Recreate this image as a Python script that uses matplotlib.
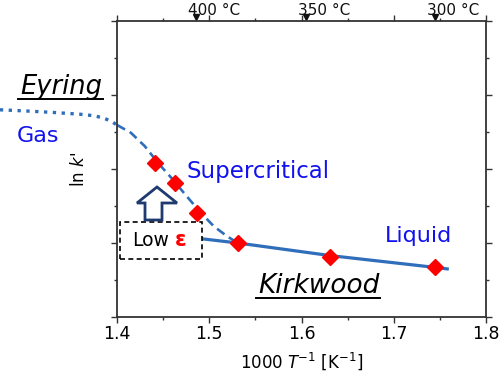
import matplotlib
matplotlib.use("Agg")
import matplotlib.pyplot as plt
import numpy as np
from matplotlib.lines import Line2D
from matplotlib.patches import Polygon, Rectangle
from matplotlib.transforms import offset_copy
from matplotlib.ticker import MultipleLocator

# ---------------- data ----------------
exp_x = [1.441, 1.463, 1.487, 1.531, 1.631, 1.745]
exp_y = [4.16, 3.62, 2.81, 2.00, 1.62, 1.35]

gas_x = [1.273, 1.30, 1.33, 1.36, 1.375, 1.385, 1.393, 1.40]
gas_y = [5.60, 5.57, 5.53, 5.48, 5.44, 5.38, 5.30, 5.19]

eyring_x = [1.400, 1.415, 1.430, 1.445, 1.460, 1.475, 1.490, 1.505, 1.520, 1.531]
eyring_y = [5.19, 4.98, 4.62, 4.15, 3.73, 3.28, 2.84, 2.45, 2.17, 2.00]

kirk_x = [1.490, 1.531, 1.631, 1.745, 1.758]
kirk_y = [2.12, 2.00, 1.66, 1.34, 1.30]

temps_C = [400, 350, 300]
temp_labels = ["400 °C", "350 °C", "300 °C"]
xticks = [1.4, 1.5, 1.6, 1.7, 1.8]

line_col = "#2f6eba"
blue_txt = "#1212ee"
W, H = 500, 379

fig = plt.figure(figsize=(5, 3.79), dpi=100)
ax = fig.add_axes([117 / W, 1 - 317 / H, (486 - 117) / W, (317 - 21) / H])

def px(x, y):
    return (x / W, 1 - y / H)

ax.set_xlim(1.4, 1.8)
ax.set_ylim(0, 8)
ax.set_xticks(xticks)
ax.set_xticklabels([f"{v:.1f}" for v in xticks])
ax.xaxis.set_minor_locator(MultipleLocator(0.05))
ax.yaxis.set_major_locator(MultipleLocator(2))
ax.yaxis.set_minor_locator(MultipleLocator(1))
ax.tick_params(axis="both", which="both", direction="out", top=True, right=True,
               labeltop=False, labelleft=False, labelright=False, color="#333333")
ax.tick_params(axis="both", which="major", length=4, width=1, labelsize=12.5, pad=2)
ax.tick_params(axis="both", which="minor", length=2.5, width=1)
for s in ax.spines.values():
    s.set_linewidth(1.3)
    s.set_color("#333333")

# lines
ax.plot(gas_x, gas_y, linestyle=":", color=line_col, lw=2.4, clip_on=False)
ax.plot(eyring_x, eyring_y, linestyle=(0, (3.5, 2)), color=line_col, lw=1.9)
ax.plot(kirk_x, kirk_y, linestyle="-", color=line_col, lw=2.3)
ax.plot(exp_x, exp_y, linestyle="none", marker="D", ms=8.2, color="red",
        mec="red", zorder=5)

# labels
ax.set_xlabel("1000 $T$$^{-1}$ [K$^{-1}$]", fontsize=12)
ax.xaxis.set_label_coords(0.5, -0.112)
ax.set_ylabel("ln $k$'", fontsize=12)
ax.yaxis.set_label_coords(-0.079, 0.5)

# top temperature scale
temp_x = [1000.0 / (t + 273.15) for t in temps_C]
tr = ax.get_xaxis_transform()
ax.plot(temp_x, [1.012] * len(temp_x), linestyle="none", marker="v", ms=4.5,
        color="#111111", transform=tr, clip_on=False)
tr_txt = offset_copy(tr, fig=fig, x=-8, y=0, units="dots")
for xv, lab in zip(temp_x, temp_labels):
    ax.text(xv, 1.021, lab, transform=tr_txt, ha="left", va="baseline",
            fontsize=11, color="#111111")

# texts
renderer = fig.canvas.get_renderer()

def underlined(x, y, s, size, ul_y, pad=(2, 1)):
    t = fig.text(*px(x, y), s, fontsize=size, style="italic", ha="left",
                 va="baseline", color="black")
    bb = t.get_window_extent(renderer)
    x0 = bb.x0 / W - pad[0] / W
    x1 = bb.x1 / W + pad[1] / W
    fig.add_artist(Line2D([x0, x1], [1 - ul_y / H] * 2, color="black", lw=1.4,
                          transform=fig.transFigure))

underlined(20, 94, "Eyring", 18.5, 98.5)
underlined(258, 293, "Kirkwood", 19, 297.5)

fig.text(*px(17, 142), "Gas", fontsize=16, color=blue_txt, ha="left", va="baseline")
fig.text(*px(187, 178), "Supercritical", fontsize=16.5, color=blue_txt, ha="left", va="baseline")
fig.text(*px(385, 242), "Liquid", fontsize=16, color=blue_txt, ha="left", va="baseline")

# Low epsilon box
fig.add_artist(Rectangle(px(120, 259), (202 - 120) / W, (259 - 222) / H,
                         transform=fig.transFigure, fill=True, fc="white",
                         ec="black", lw=1.2, ls=(0, (3, 2))))
fig.text(*px(132, 245.5), "Low", fontsize=13.5, color="black", ha="left", va="baseline")
fig.text(*px(175, 245.5), "ε", fontsize=15, color="red", fontweight="bold",
         ha="left", va="baseline")

# hollow up arrow
arrow_pts = [(157, 187), (177, 203), (162, 203), (162, 220), (145, 220),
             (145, 203), (137, 203)]
fig.add_artist(Polygon([px(*p) for p in arrow_pts], closed=True,
                       transform=fig.transFigure, fc="white", ec="#1f3a6e", lw=2))

fig.savefig("out.png", dpi=100)
